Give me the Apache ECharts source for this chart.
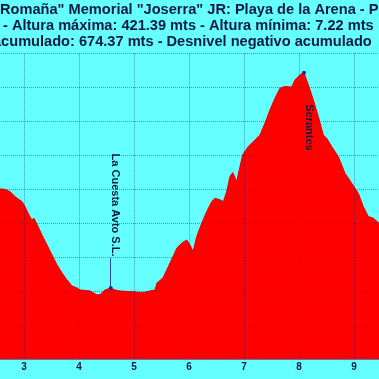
<!DOCTYPE html>
<html><head><meta charset="utf-8">
<script src="https://cdn.jsdelivr.net/npm/echarts@6/dist/echarts.min.js"></script>
<style>html,body{margin:0;padding:0;background:#66ffff;}#c{width:379px;height:379px;}</style>
</head><body><div id="c"></div>
<script>
const titleLines = [
  'Romaña" Memorial "Joserra" JR: Playa de la Arena - P',
  '- Altura máxima: 421.39 mts - Altura mínima: 7.22 mts',
  'acumulado: 674.37 mts - Desnivel negativo acumulado'
];
const distanceKm = [2.45, 2.564, 2.655, 2.745, 2.836, 2.964, 3.018, 3.073, 3.14, 3.182, 3.255, 3.327, 3.418, 3.509, 3.6, 3.691, 3.782, 3.873, 3.964, 4.018, 4.109, 4.2, 4.327, 4.382, 4.473, 4.576, 4.655, 4.745, 4.873, 5.018, 5.164, 5.291, 5.382, 5.418, 5.527, 5.655, 5.782, 5.873, 5.958, 6.018, 6.073, 6.14, 6.231, 6.322, 6.413, 6.473, 6.564, 6.624, 6.685, 6.745, 6.795, 6.867, 6.927, 6.976, 7.078, 7.2, 7.291, 7.382, 7.473, 7.564, 7.655, 7.745, 7.867, 7.927, 8.018, 8.09, 8.169, 8.26, 8.351, 8.442, 8.504, 8.595, 8.715, 8.836, 8.958, 9.078, 9.169, 9.26, 9.351, 9.455, 9.55];
const altitudeM = [250, 250.7, 250, 246.8, 239.4, 232, 224.7, 215.4, 205, 207.6, 195.3, 183, 168.4, 153.7, 139, 127.2, 116.9, 108, 105.1, 102.2, 101.5, 100.7, 94.9, 95.3, 102.2, 105, 102.2, 100.7, 100, 99.3, 98.2, 100.7, 102.2, 112.5, 119.9, 141.9, 164, 171.3, 175.7, 168.4, 158.5, 180.6, 200.3, 217.4, 232, 237, 234.6, 232, 246.8, 268.8, 274.7, 261.5, 283.5, 300.7, 312.9, 322.8, 330.1, 347.4, 366.9, 384.1, 398.8, 401.2, 400.3, 411, 418.4, 421.39, 403.7, 381.6, 357, 330.1, 325.2, 312.9, 298.1, 273.7, 259, 244.3, 224.6, 210, 207.6, 200.3, 193];
const markerNames = ['La Cuesta Avto S.L.', 'Serantes'];
const markerKm = [4.576, 8.09];
const markerAlt = [105, 421.39];
const markerLabelKm = [4.66, 8.18];
const markerLabelAlt = [227, 341];
const markerLineTopAlt = [149, null];

const textColor = '#0d1b3e';
const chart = echarts.init(document.getElementById('c'), null, {renderer: 'canvas'});

const dotData = markerKm.map((k, i) => ({coord: [k, markerAlt[i]], symbol: 'circle', symbolSize: 4, itemStyle: {color: '#1a2a9a'}, label: {show: false}}));
const labelData = markerKm.map((k, i) => ({
  coord: [markerLabelKm[i], markerLabelAlt[i]], symbol: 'circle', symbolSize: 0,
  label: {show: true, position: 'inside', formatter: markerNames[i], rotate: -90,
    color: textColor, fontSize: 11, fontWeight: 'bold', fontFamily: '"Liberation Sans", Arial, sans-serif'}
}));
const lineData = [];
markerKm.forEach((k, i) => {
  if (markerLineTopAlt[i] != null) lineData.push([{coord: [k, markerAlt[i]]}, {coord: [k, markerLineTopAlt[i]]}]);
});

const gridLine = {show: true, lineStyle: {type: 'dotted', color: 'rgba(0,30,120,0.45)', width: 1}};

chart.setOption({
  animation: false,
  backgroundColor: '#66ffff',
  graphic: titleLines.map((t, i) => ({
    type: 'text', x: [0, 3, -7][i], y: [9.8, 26, 42.3][i], z: 10,
    style: {text: t, fill: textColor, font: 'bold 14.6px "Liberation Sans", Arial, sans-serif', textAlign: 'left', textVerticalAlign: 'middle'}
  })),
  grid: {left: -31, top: 53.3, width: 440, height: 306.2, containLabel: false, outerBoundsMode: 'none'},
  xAxis: {
    type: 'value', min: 2, max: 10, interval: 1, z: 3,
    axisLine: {show: true, lineStyle: {color: '#5a78b0', width: 1}},
    axisTick: {show: false},
    axisLabel: {color: textColor, fontSize: 10, fontWeight: 'bold', margin: 3, fontFamily: '"Liberation Sans", Arial, sans-serif'},
    splitLine: gridLine
  },
  yAxis: {
    type: 'value', min: 0, max: 450, interval: 50, z: 3,
    axisLine: {show: false}, axisTick: {show: false}, axisLabel: {show: false},
    splitLine: gridLine
  },
  series: [{
    type: 'line', z: 2,
    data: distanceKm.map((k, i) => [k, altitudeM[i]]),
    showSymbol: false, symbol: 'none',
    lineStyle: {color: '#e80000', width: 1},
    areaStyle: {color: '#ff0000', opacity: 1},
    markLine: {silent: true, symbol: 'none', label: {show: false}, lineStyle: {color: '#2a4aa0', width: 1, type: 'solid'}, data: lineData},
    markPoint: {silent: true, data: dotData.concat(labelData)}
  }]
});
</script></body></html>
